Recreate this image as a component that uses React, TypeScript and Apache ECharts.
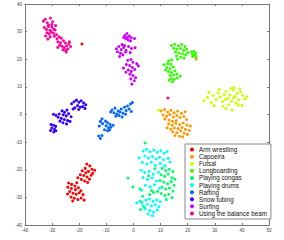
import React, { useEffect, useRef } from "react";
import * as echarts from "echarts";

const classNames = [
  "Arm wrestling",
  "Capoeira",
  "Futsal",
  "Longboarding",
  "Playing congas",
  "Playing drums",
  "Rafting",
  "Snow tubing",
  "Surfing",
  "Using the balance beam",
];

const classColors = [
  "#ff0000", "#ff9900", "#ccff00", "#33ff00", "#00ff66",
  "#00ffff", "#0066ff", "#3300ff", "#cc00ff", "#ff0099",
];

const xTicks = [-40, -30, -20, -10, 0, 10, 20, 30, 40, 50];
const yTicks = [-40, -30, -20, -10, 0, 10, 20, 30, 40];

const armWrestling = [
  [-17.2,-17.9],[-16.1,-18.6],[-15.3,-19.8],[-17.8,-19.5],[-18.9,-20.4],[-16.6,-20.6],[-15.0,-21.3],[-14.3,-20.2],
  [-19.6,-21.8],[-18.3,-22.1],[-17.1,-22.6],[-16.2,-23.4],[-19.2,-23.5],[-18.0,-24.1],[-20.5,-22.9],[-15.6,-22.0],
  [-17.6,-21.1],[-16.9,-24.6],
  [-23.9,-24.8],[-22.8,-25.3],[-21.6,-25.9],[-24.2,-26.3],[-22.9,-26.8],[-21.4,-27.2],[-20.3,-26.5],[-19.4,-27.6],
  [-23.5,-27.9],[-22.3,-28.5],[-21.1,-28.9],[-20.0,-28.3],[-18.6,-29.0],[-23.0,-29.9],[-21.8,-30.3],[-20.5,-30.8],
  [-19.3,-30.2],[-22.4,-31.3],[-18.2,-31.0],[-24.3,-28.8],[-20.9,-24.7],
  [-19.0,25.5],
];

const capoeira = [
  [10.2,1.3],[11.5,1.8],[12.6,0.9],[13.8,1.5],[15.0,0.6],[16.3,1.2],[17.7,0.4],[19.1,1.0],[10.9,-0.2],[12.2,-0.6],
  [13.4,0.0],[14.7,-0.9],[16.0,-0.4],[17.2,-1.1],[18.6,-0.7],[11.6,-1.6],[13.1,-2.0],[14.4,-2.5],[19.6,-1.8],[15.8,-2.2],
  [13.0,-3.4],[14.3,-3.9],[15.6,-3.2],[17.0,-3.6],[18.3,-3.1],[19.7,-3.8],[21.0,-4.2],[12.4,-4.8],[13.8,-5.3],[15.1,-4.9],
  [16.5,-5.1],[17.9,-4.7],[19.2,-5.4],[20.6,-5.8],[14.5,-6.3],[16.0,-6.6],[17.4,-6.0],[18.7,-6.8],[15.3,-7.6],[17.0,-7.9],
  [19.9,-7.2],[18.1,-8.1],
  [23.1,20.1],
];

const futsal = [
  [26.0,5.0],[27.3,6.2],[28.6,4.3],[29.4,6.9],[30.5,5.4],[31.2,7.8],[32.0,6.3],[32.8,4.6],[33.5,7.2],[34.2,8.4],
  [34.8,5.9],[35.6,7.1],[36.2,4.8],[36.9,8.9],[37.5,6.5],[38.2,7.6],[38.8,5.3],[39.5,8.2],[40.3,6.9],[41.1,5.6],
  [37.0,9.8],[35.1,3.5],[33.0,3.0],[36.4,1.6],[38.6,3.4],[40.0,3.3],[29.8,3.2],[31.6,9.1],[35.9,9.4],[27.8,8.0],
  [39.2,9.3],[34.1,2.2],[41.8,6.4],[36.8,6.0],[33.9,5.4],[37.9,4.2],
  [9.3,1.5],
];

const longboarding = [
  [14.0,25.0],[15.2,25.4],[16.6,24.9],[17.8,25.3],[19.0,24.6],[14.8,24.0],[16.0,23.6],[17.3,23.9],[18.5,23.2],[19.6,23.6],
  [15.5,22.6],[16.8,22.2],[18.1,22.0],[19.2,21.5],[15.9,21.2],[17.4,20.8],[18.6,20.4],[20.0,22.4],[16.2,20.0],
  [21.4,22.6],[22.2,22.9],[22.9,22.3],[21.8,21.7],[22.6,21.6],[23.1,21.0],[21.9,20.9],
  [13.0,19.4],[14.1,19.8],[11.2,18.0],[12.6,18.4],[13.8,18.2],[12.3,17.0],[13.5,16.6],[14.7,17.2],[12.9,15.5],[14.1,15.2],
  [15.3,15.8],[13.5,14.1],[14.8,14.3],[16.0,14.6],[13.9,13.0],[15.1,12.8],[16.2,13.2],[17.3,13.9],[14.4,11.9],[13.2,12.4],
  [11.8,16.1],
];

const playingCongas = [
  [4.3,-10.3],[-2.0,-23.0],[-0.2,-26.2],[2.4,-27.0],
  [10.6,-19.5],[11.9,-20.3],[13.2,-19.8],[14.5,-20.6],[10.2,-21.8],[11.5,-22.4],[12.8,-21.6],[14.2,-22.9],[15.3,-23.4],
  [9.8,-23.9],[11.2,-24.5],[12.6,-25.1],[13.9,-24.3],[15.0,-25.6],[10.5,-26.3],[11.9,-27.0],[13.3,-26.6],[14.6,-27.8],
  [8.9,-27.9],[10.2,-28.6],[11.6,-29.3],[13.0,-28.9],[14.2,-30.1],[7.4,-28.2],[6.0,-29.0],[12.1,-30.8],
  [3.4,-29.6],[3.0,-31.8],[4.0,-33.6],[2.6,-34.4],[5.6,-22.2],[7.9,-19.6],[6.7,-27.5],
];

const playingDrums = [
  [3.6,-13.2],[4.8,-12.6],[6.1,-13.5],[7.5,-12.9],[8.8,-13.7],[10.1,-13.1],[11.3,-14.0],[12.4,-13.4],[2.1,-15.7],[4.2,-15.0],
  [5.5,-15.8],[7.0,-15.2],[8.3,-16.1],[9.6,-15.5],[11.0,-16.4],[12.8,-15.9],[3.3,-17.4],[5.0,-17.9],[6.6,-17.3],[8.1,-18.4],
  [9.9,-17.7],[11.6,-18.6],[13.5,-17.2],
  [2.8,-20.2],[4.1,-21.0],[5.8,-20.6],[7.3,-21.6],[9.2,-20.9],[3.5,-22.8],[5.2,-23.5],[6.9,-23.0],[8.5,-24.1],[4.4,-25.6],
  [6.2,-26.2],[7.8,-25.4],[9.6,-26.8],[3.0,-27.4],
  [4.6,-31.0],[5.9,-30.6],[7.2,-31.4],[8.6,-30.9],[9.9,-31.6],[2.4,-31.3],[1.2,-32.0],[5.1,-32.5],[6.6,-33.1],[8.0,-32.7],
  [9.4,-33.4],[4.3,-34.2],[6.0,-34.8],[7.4,-35.4],[8.8,-34.6],[5.4,-36.0],[7.0,-36.6],[3.5,-33.0],
];

const rafting = [
  [-7.9,1.6],[-6.8,2.3],[-5.6,1.3],[-4.5,2.0],[-3.3,2.6],[-2.2,3.1],[-1.1,3.8],[-0.4,4.3],[-7.2,0.6],[-6.1,0.2],
  [-5.0,0.9],[-3.9,0.5],[-2.7,1.4],[-1.6,2.0],[-0.8,1.1],[-6.5,-0.6],[-5.3,-0.4],[-4.2,-0.9],[-2.9,0.1],[-8.4,0.9],
  [-11.6,-1.6],[-12.2,-2.5],[-11.4,-3.3],[-10.3,-2.4],[-9.5,-3.0],[-8.6,-3.6],[-10.1,-4.1],[-9.2,-4.8],[-8.3,-4.6],
  [-7.5,-3.9],[-12.6,-4.2],[-10.7,-5.5],[-9.6,-5.9],[-8.8,-5.6],[-12.8,-7.8],[-12.2,-8.7],[-11.6,-7.6],
];

const snowTubing = [
  [-22.8,3.9],[-21.9,4.6],[-21.0,5.2],[-20.1,4.4],[-19.3,5.0],[-18.4,4.2],[-17.6,3.5],[-20.6,3.2],[-19.6,2.6],[-18.7,2.9],
  [-21.6,2.4],[-22.3,2.0],[-17.9,2.2],[-20.2,1.8],
  [-26.3,1.3],[-25.4,0.8],[-24.5,1.6],[-25.9,-0.1],[-24.8,-0.5],[-23.9,0.3],[-23.0,-0.8],[-27.4,0.2],[-28.6,-0.3],
  [-29.5,0.1],[-27.8,-1.0],[-26.6,-1.4],[-25.5,-1.8],[-24.3,-2.2],[-23.4,-2.5],[-26.0,-3.0],[-24.7,-3.4],[-27.1,-2.4],
  [-30.4,-3.6],[-29.5,-3.9],[-28.7,-4.3],[-30.1,-4.9],[-29.1,-5.4],[-30.6,-5.8],[-29.4,-6.3],[-28.6,-5.9],
];

const surfing = [
  [-3.2,28.6],[-2.4,29.3],[-1.5,28.4],[-2.8,27.4],[-1.9,27.0],[-0.8,27.8],[-3.6,27.9],[-1.1,26.6],[0.4,27.5],[-2.2,28.0],
  [-6.3,23.8],[-5.4,24.6],[-4.5,23.5],[-3.6,24.3],[-2.7,23.2],[-1.8,24.6],[-0.7,23.9],[0.6,24.2],[-5.9,22.7],[-4.8,22.2],
  [-3.9,21.6],[-2.9,22.6],[-5.1,21.0],[-3.3,25.0],[-1.2,22.4],[-4.2,25.3],
  [-2.1,19.6],[-0.9,19.9],[-0.2,18.9],[1.2,18.4],[-2.6,18.1],[-1.4,17.7],[-0.4,17.0],[-3.7,16.8],[-1.9,16.1],[-0.8,15.6],
  [0.5,16.3],[1.8,17.6],[-1.3,14.6],[-0.2,14.1],[0.8,13.3],[-1.0,12.9],[0.3,12.2],[-0.6,11.0],[-2.8,15.3],
];

const balanceBeam = [
  [-33.2,33.8],[-32.5,34.5],[-31.8,33.2],[-30.6,34.9],[-29.8,33.6],[-32.9,31.5],[-32.1,30.8],[-31.4,31.9],[-30.8,30.5],
  [-30.1,31.7],[-29.4,30.9],[-28.7,32.2],[-31.9,29.6],[-31.1,29.2],[-30.3,29.9],[-29.5,29.4],[-28.9,30.6],[-32.4,28.4],
  [-30.7,28.1],[-29.2,28.3],[-31.6,27.3],[-28.4,28.9],[-30.1,32.6],[-31.3,32.4],
  [-28.2,27.4],[-27.4,28.1],[-26.6,27.6],[-27.9,26.3],[-26.9,26.0],[-25.8,26.7],[-25.1,25.9],[-27.2,25.1],[-26.3,24.7],
  [-25.5,24.2],[-24.6,24.9],[-23.8,25.6],[-23.2,24.6],[-24.2,23.7],[-25.0,23.2],[-26.0,23.4],[-23.6,26.3],[-27.9,24.3],
  [-24.8,22.6],
  [12.7,6.0],
];

const classData = [
  armWrestling, capoeira, futsal, longboarding, playingCongas,
  playingDrums, rafting, snowTubing, surfing, balanceBeam,
];

export default function App() {
  const ref = useRef<HTMLDivElement>(null);
  useEffect(() => {
    document.body.style.margin = "0";
    const chart = echarts.init(ref.current!, null, { renderer: "svg" });
    const axisColor = "#777";
    const labelStyle = { fontSize: 4.5, color: "#444", fontFamily: "Liberation Sans, Arial, sans-serif" };
    const common = {
      type: "value" as const,
      interval: 10,
      splitLine: { show: false },
      axisLine: { show: true, onZero: false, lineStyle: { color: axisColor, width: 1 } },
      axisTick: { show: true, inside: true, length: 2, lineStyle: { color: axisColor } },
    };
    chart.setOption({
      animation: false,
      grid: { left: 25, right: 15, top: 4, bottom: 15, containLabel: false },
      xAxis: [
        { ...common, min: xTicks[0], max: xTicks[xTicks.length - 1], position: "bottom",
          axisLabel: { ...labelStyle, margin: 3 } },
        { ...common, min: xTicks[0], max: xTicks[xTicks.length - 1], position: "top",
          axisLabel: { show: false } },
      ],
      yAxis: [
        { ...common, min: yTicks[0], max: yTicks[yTicks.length - 1], position: "left",
          axisLabel: { ...labelStyle, margin: 3 } },
        { ...common, min: yTicks[0], max: yTicks[yTicks.length - 1], position: "right",
          axisLabel: { show: false } },
      ],
      legend: {
        orient: "vertical",
        left: 185,
        top: 144,
        width: 79,
        itemWidth: 4,
        itemHeight: 4,
        itemGap: 0,
        padding: [2, 4, 2, 5],
        backgroundColor: "#fff",
        borderColor: "#888",
        borderWidth: 1,
        borderRadius: 0,
        icon: "circle",
        textStyle: { fontSize: 6.3, lineHeight: 7.1, color: "#111", fontFamily: "Liberation Sans, Arial, sans-serif", padding: [0, 0, 0, 0] },
        data: classNames,
      },
      series: classNames.map((name, i) => ({
        name,
        type: "scatter",
        xAxisIndex: 0,
        yAxisIndex: 0,
        symbol: "circle",
        symbolSize: 3,
        itemStyle: { color: classColors[i], opacity: 1 },
        data: classData[i],
      })),
    });
    return () => chart.dispose();
  }, []);
  return <div ref={ref} style={{ width: 284, height: 240, position: "absolute", left: 0, top: 0 }} />;
}
